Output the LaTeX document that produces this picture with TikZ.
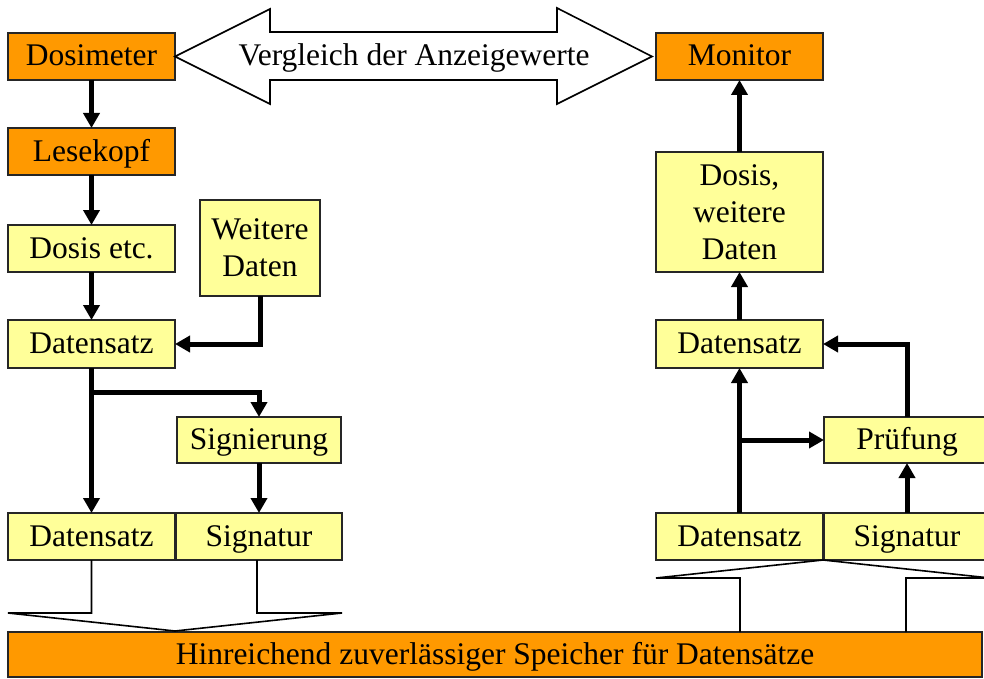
\documentclass[tikz,border=0pt]{standalone}
\usepackage{fontspec}
\setmainfont{Liberation Serif}
\usetikzlibrary{arrows.meta}
\definecolor{orangebox}{HTML}{FF9900}
\definecolor{yellowbox}{HTML}{FFFF99}
\begin{document}
\begin{tikzpicture}[x=1pt,y=-1pt,
  box/.style={draw=black!85, line width=1.5pt, inner sep=0pt, outer sep=0pt,
    align=center, font=\fontsize{31.5}{37}\selectfont},
  oneline/.style={text height=24pt, text depth=5pt},
  obox/.style={box, oneline, fill=orangebox},
  ybox/.style={box, oneline, fill=yellowbox},
  ybox2/.style={box, fill=yellowbox},
  arr/.style={line width=5pt, -{Triangle[length=15pt,width=16pt]}},
  blockarrow/.style={draw=black, line width=1.6pt, line join=miter, fill=white},
  blockline/.style={draw=black, line width=1.6pt, line join=miter}
]
\useasboundingbox (0,0) rectangle (984,679);
\clip (0,0) rectangle (984,679);

% left column
\node[obox, minimum width=167pt, minimum height=47pt] (dosi) at (91.5,56.5) {Dosimeter};
\node[obox, minimum width=167pt, minimum height=47pt] (lese) at (91.5,151.5) {Lesekopf};
\node[ybox, minimum width=167pt, minimum height=47pt] (dosis) at (91.5,248.5) {Dosis etc.};
\node[ybox2, minimum width=120pt, minimum height=96pt] (weit) at (260,248) {Weitere\\Daten};
\node[ybox, minimum width=167pt, minimum height=48pt] (dsL) at (91.5,344) {Datensatz};
\node[ybox, minimum width=164pt, minimum height=46pt] (sign) at (259,440) {Signierung};
\node[ybox, minimum width=167pt, minimum height=47pt] (dsB) at (91.5,536.5) {Datensatz};
\node[ybox, minimum width=166pt, minimum height=47pt] (sigB) at (259,536.5) {Signatur};

% right column
\node[obox, minimum width=167pt, minimum height=47pt] (mon) at (739.5,56.5) {Monitor};
\node[ybox2, minimum width=167pt, minimum height=120pt] (dosR) at (739.5,212) {Dosis,\\weitere\\Daten};
\node[ybox, minimum width=167pt, minimum height=48pt] (dsR) at (739.5,344) {Datensatz};
\node[ybox, minimum width=166pt, minimum height=46pt] (pruf) at (907,440) {Prüfung};
\node[ybox, minimum width=167pt, minimum height=47pt] (dsBR) at (739.5,536.5) {Datensatz};
\node[ybox, minimum width=166pt, minimum height=47pt] (sigBR) at (907,536.5) {Signatur};

% storage
\node[obox, minimum width=974pt, minimum height=45pt] (store) at (495,654.5) {Hinreichend zuverlässiger Speicher für Datensätze};

% comparison double arrow
\draw[blockarrow] (dosi.east) -- (270,9) -- (270,32) -- (557,32) -- (557,8)
  -- ([xshift=-4pt]mon.west) -- (557,104) -- (557,80) -- (270,80) -- (270,104) -- cycle;
\node[font=\fontsize{31.5}{37}\selectfont, inner sep=0pt, oneline] (cmp) at (414,56.5) {Vergleich der Anzeigewerte};

% left flow
\draw[arr] (dosi) -- (lese);
\draw[arr] (lese) -- (dosis);
\draw[arr] (dosis) -- (dsL);
\draw[arr] (weit.south) |- (dsL.east);
\draw[arr] (dsL.south) -- (dsB.north);
\coordinate (bL) at (91.5,392);
\draw[arr] (bL) -| (sign.north);
\draw[arr] (sign) -- (sigB);

% right flow
\draw[arr] (dsBR.north) -- (dsR.south);
\coordinate (bR) at (739.5,440);
\draw[arr] (bR) -- (pruf.west);
\draw[arr] (sigBR) -- (pruf);
\draw[arr] (pruf.north) |- (dsR.east);
\draw[arr] (dsR) -- (dosR);
\draw[arr] (dosR) -- (mon);

% block arrow down to storage
\draw[blockline]
  (91.5,560) -- (91.5,613) -- (8,613) -- (175,631) -- (342,613) -- (257,613) -- (257,560);
% block arrow up from storage
\draw[blockline]
  (740,632) -- (740,578) -- (656,578) -- (823,560) -- (990,578) -- (906,578) -- (906,632);
\end{tikzpicture}
\end{document}
